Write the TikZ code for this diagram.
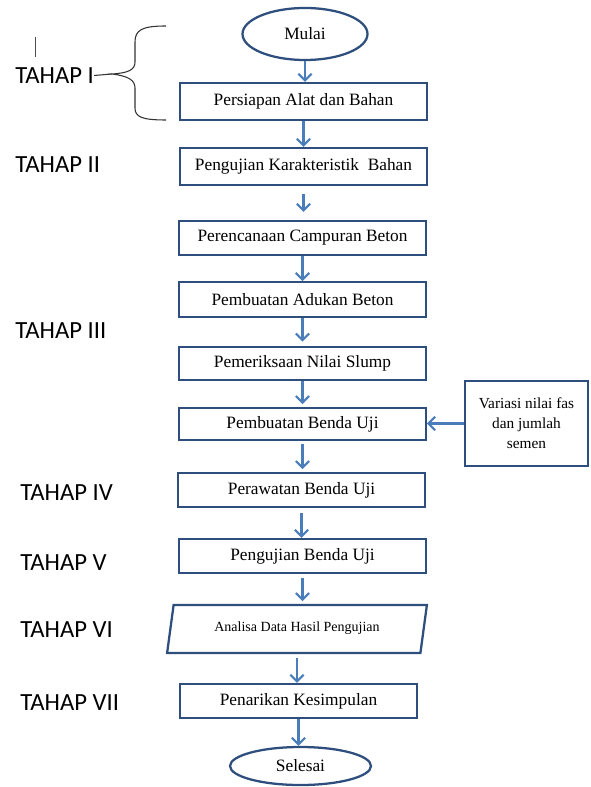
\documentclass[tikz,border=0pt]{standalone}
\usepackage{fontspec}
\setmainfont{Liberation Serif}
\newfontfamily\tahapfont{Carlito}
\usetikzlibrary{arrows.meta, shapes.geometric, positioning}
\definecolor{boxline}{HTML}{2E4F7E}
\definecolor{arrowblue}{HTML}{4A7EBB}

\begin{document}
\begin{tikzpicture}[x=0.75pt, y=-0.75pt,
	box/.style={draw=boxline, line width=1.7pt, minimum width=185pt, inner sep=2pt, font=\fontsize{13}{15}\selectfont},
	ell/.style={draw=boxline, line width=1.7pt, ellipse, inner sep=1pt, font=\fontsize{13}{15}\selectfont},
	arr/.style={draw=arrowblue, line width=1.6pt, -{Straight Barb[length=5pt, width=10pt]}},
	tahap/.style={anchor=west, inner sep=0pt, font=\tahapfont\fontsize{18.5}{20}\selectfont}]
	\useasboundingbox (0,0) rectangle (590,787);
	% flow
	\node[ell, minimum width=93.75pt, minimum height=39pt] (mulai) at (305,34) {Mulai};
	\node[box, minimum height=27.75pt] (persiapan) at (303.5,101.5) {Persiapan Alat dan Bahan};
	\node[box, minimum height=27.75pt] (karakter) at (303.5,166.5) {Pengujian Karakteristik\ \ Bahan};
	\node[box, minimum height=25.5pt] (rencana) at (302.5,238) {Perencanaan Campuran Beton};
	\node[box, minimum height=26pt] (adukan) at (302.5,299.5) {Pembuatan Adukan Beton};
	\node[box, minimum height=25pt] (slump) at (302.5,363.5) {Pemeriksaan Nilai Slump};
	\node[box, minimum height=24pt] (bendauji) at (302.5,424) {Pembuatan Benda Uji};
	\node[box, minimum height=25.5pt] (rawat) at (301.5,490) {Perawatan Benda Uji};
	\node[box, minimum height=25.5pt] (ujibenda) at (302.5,556) {Pengujian Benda Uji};
	\node[draw=boxline, line width=1.7pt, trapezium, trapezium left angle=76, trapezium right angle=104,
		trapezium stretches=true, minimum width=195pt, minimum height=36pt, inner sep=1pt,
		font=\fontsize{10.5}{12}\selectfont] (analisa) at (297,629) {\raisebox{4pt}{Analisa Data Hasil Pengujian}};
	\node[box, minimum width=177.75pt, minimum height=25.5pt] (tarik) at (298.5,701) {Penarikan Kesimpulan};
	\node[ell, minimum width=105.75pt, minimum height=28.5pt] (selesai) at (300.5,766) {Selesai};
	\node[box, minimum width=92.25pt, minimum height=63.75pt, align=center,
		font=\fontsize{11.5}{15}\selectfont] (variasi) at (526.5,423.5) {Variasi nilai fas\\dan jumlah\\semen};

	\draw[arr] (mulai.south) -- (mulai.south |- persiapan.north);
	\draw[arr] (persiapan.south) -- (persiapan.south |- karakter.north);
	\draw[arr, shorten <=6pt, shorten >=6pt] (karakter.south) -- (karakter.south |- rencana.north);
	\draw[arr] (rencana.south) -- (rencana.south |- adukan.north);
	\draw[arr, shorten >=3pt] (adukan.south) -- (adukan.south |- slump.north);
	\draw[arr, shorten >=2pt] (slump.south) -- (slump.south |- bendauji.north);
	\draw[arr, shorten <=2pt, shorten >=2pt] (bendauji.south) -- (bendauji.south |- rawat.north);
	\draw[arr, shorten <=4pt] (rawat.south) -- (rawat.south |- ujibenda.north);
	\draw[arr, shorten <=3pt, shorten >=2pt] (ujibenda.south) -- (ujibenda.south |- analisa.north);
	\draw[arr, shorten <=3pt] (analisa.south) -- (analisa.south |- tarik.north);
	\draw[arr] (tarik.south) -- (tarik.south |- selesai.north);
	\draw[arr] (variasi.west) -- (variasi.west -| bendauji.east);

	% stages
	\node[tahap] (t1) at (15,75.5) {TAHAP I};
	\node[tahap] (t2) at (15,165) {TAHAP II};
	\node[tahap] (t3) at (15,330.5) {TAHAP III};
	\node[tahap] (t4) at (20,493) {TAHAP IV};
	\node[tahap] (t5) at (20,563) {TAHAP V};
	\node[tahap] (t6) at (20,630) {TAHAP VI};
	\node[tahap] (t7) at (20,702.5) {TAHAP VII};

	% brace
	\coordinate (tip) at (112,74);
	\draw[black!80, line width=0.8pt] (t1.east) -- (tip);
	\draw[black!80, line width=0.8pt] (166,26) .. controls (142,26) and (135,30) .. (135,42) -- (135,62)
		.. controls (135,70) and (128,73) .. (tip) .. controls (128,76) and (135,80) .. (135,88)
		-- (135,108) .. controls (135,117) and (142,120) .. (166,120);
	\draw[black!70, line width=0.6pt] (35,37) -- (35,57);
\end{tikzpicture}
\end{document}
